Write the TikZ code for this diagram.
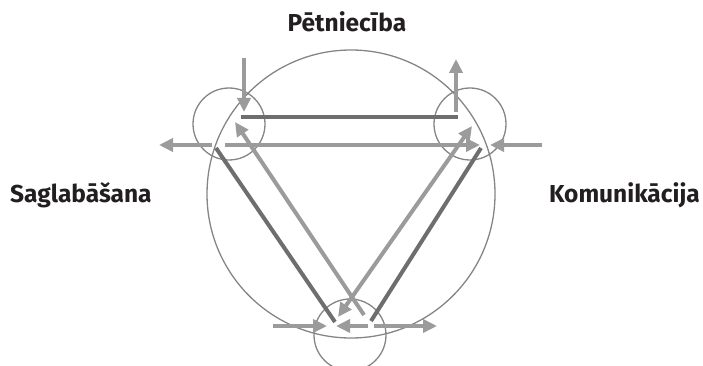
\documentclass[tikz,border=0pt]{standalone}
\usepackage{fontspec}
\setmainfont{Fira Sans}
\usetikzlibrary{arrows.meta}
\definecolor{darkg}{HTML}{6E6E6E}
\definecolor{lightg}{HTML}{9B9B9B}
\definecolor{ring}{HTML}{858585}
\definecolor{txt}{HTML}{231F20}
\tikzset{
  ringc/.style={circle,draw=ring,line width=1.3pt,inner sep=0pt},
  darkline/.style={draw=darkg,line width=4pt},
  lightarr/.style={draw=lightg,line width=4pt,-{Triangle[length=14pt,width=13pt]}},
  lightdbl/.style={draw=lightg,line width=4pt,{Triangle[length=14pt,width=13pt]}-{Triangle[length=14pt,width=13pt]}},
  lbl/.style={font=\fontsize{24.5}{28}\selectfont\bfseries,text=txt,inner sep=0pt}
}
\begin{document}
\begin{tikzpicture}[x=1pt,y=-1pt]
\useasboundingbox (0,0) rectangle (703,366);
% circles
\node[ringc,minimum size=288pt] (big) at (351,194) {};
\node[ringc,minimum size=72pt] (tl) at (229,124) {};
\node[ringc,minimum size=72pt] (tr) at (470,124) {};
\node[ringc,minimum size=72pt] (bo) at (350,335) {};
% end points
\coordinate (d1a) at (241,117); \coordinate (d1b) at (458,117);
\coordinate (h1a) at (225,145); \coordinate (h1b) at (480,145);
\coordinate (l1a) at (212,145); \coordinate (l1b) at (159,145);
\coordinate (r1a) at (542,145); \coordinate (r1b) at (490,145);
\coordinate (v1a) at (244,58);  \coordinate (v1b) at (244,112);
\coordinate (u1a) at (456,112); \coordinate (u1b) at (456,59);
\coordinate (dla) at (216,148); \coordinate (dlb) at (335,322);
\coordinate (lla) at (364,315); \coordinate (llb) at (235,122);
\coordinate (lra) at (338,317); \coordinate (lrb) at (472,126);
\coordinate (dra) at (481,148); \coordinate (drb) at (371,321);
\coordinate (b1a) at (273,326); \coordinate (b1b) at (327,326);
\coordinate (b2a) at (368,326); \coordinate (b2b) at (336,326);
\coordinate (b3a) at (374,326); \coordinate (b3b) at (437,326);
% connectors
\draw[darkline] (d1a) -- (d1b);
\draw[darkline] (dla) -- (dlb);
\draw[darkline] (dra) -- (drb);
\draw[lightarr] (h1a) -- (h1b);
\draw[lightarr] (l1a) -- (l1b);
\draw[lightarr] (r1a) -- (r1b);
\draw[lightarr] (v1a) -- (v1b);
\draw[lightarr] (u1a) -- (u1b);
\draw[lightarr] (lla) -- (llb);
\draw[lightdbl] (lra) -- (lrb);
\draw[lightarr] (b1a) -- (b1b);
\draw[lightarr] (b2a) -- (b2b);
\draw[lightarr] (b3a) -- (b3b);
% labels
\node[lbl,anchor=base] (pet) at (347,32) {Pētniecība};
\node[lbl,anchor=base west] (sag) at (10,202) {Saglabāšana};
\node[lbl,anchor=base east] (kom) at (700,202) {Komunikācija};
\end{tikzpicture}
\end{document}
